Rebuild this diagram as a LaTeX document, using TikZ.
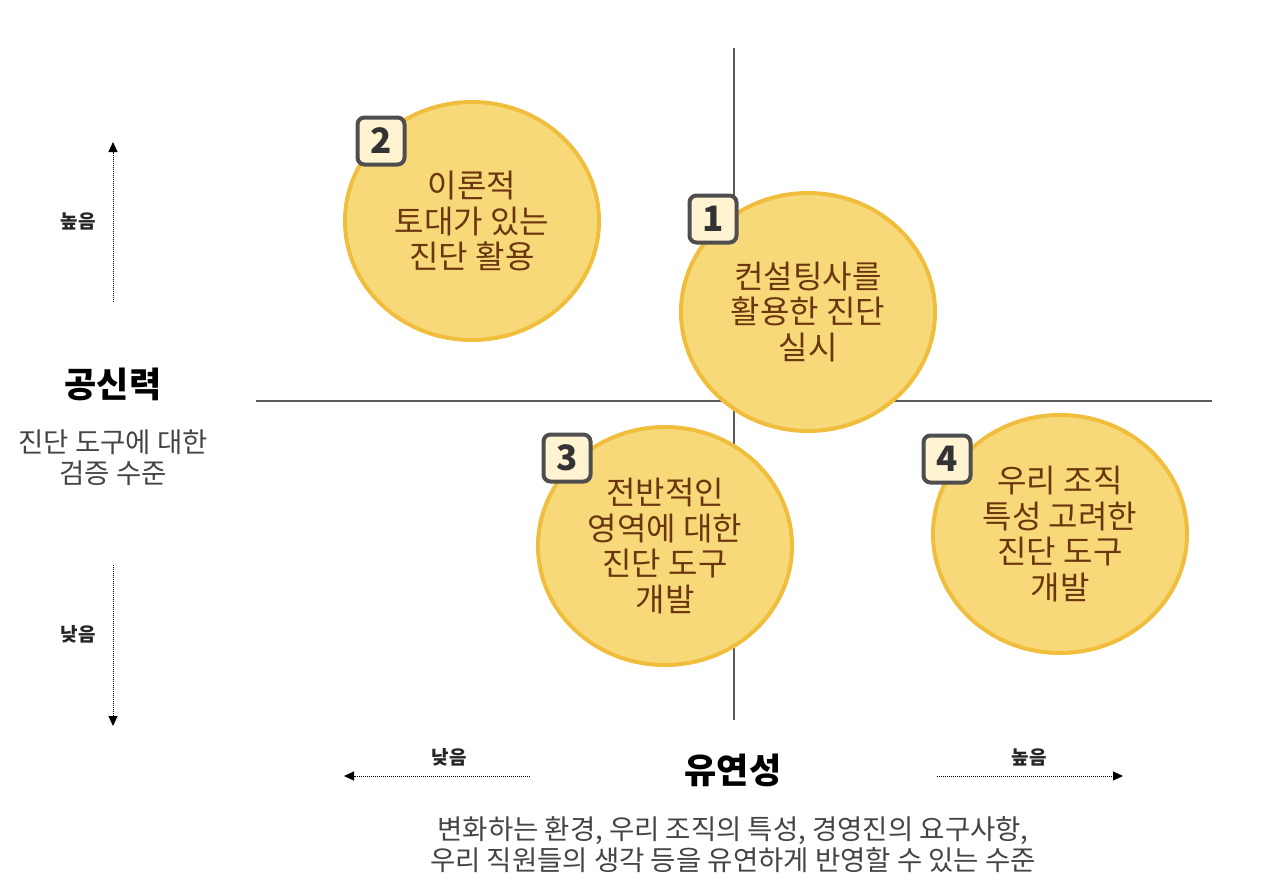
\documentclass[tikz,border=0pt]{standalone}
\usepackage{fontspec}
\setmainfont{Noto Sans CJK KR}
\usetikzlibrary{shapes.geometric,arrows.meta}
\definecolor{circfill}{HTML}{F7D97A}
\definecolor{circline}{HTML}{F0BE3C}
\definecolor{circtext}{HTML}{6B360E}
\definecolor{badgefill}{HTML}{FFF3D2}
\definecolor{badgeline}{HTML}{4E4E4E}
\definecolor{axisgray}{HTML}{5A5A5A}
\definecolor{labelgray}{HTML}{444444}
\tikzset{
  bubble/.style={ellipse, fill=circfill, draw=circline, line width=4pt,
    minimum width=254pt, minimum height=238pt, inner sep=0pt, align=center,
    text=circtext, font=\fontsize{32}{35.5}\selectfont},
  badge/.style={rectangle, rounded corners=7pt, fill=badgefill, draw=badgeline,
    line width=4pt, minimum width=47pt, minimum height=47pt, inner sep=0pt,
    text=black!80, font=\fontsize{35}{38}\selectfont\bfseries},
  axisline/.style={draw=axisgray, line width=1.4pt},
  dotarrow/.style={draw=black, line width=1pt, dash pattern=on 1pt off 1pt,
    -{Triangle[length=10pt,width=9pt]}},
  small/.style={text=black!85, font=\fontsize{19}{21}\selectfont\bfseries},
  title/.style={text=black, font=\fontsize{35}{40}\selectfont\bfseries},
  desc/.style={text=labelgray, align=center, font=\fontsize{27.5}{31}\selectfont}
}
\begin{document}
\begin{tikzpicture}[x=1pt,y=-1pt]
\useasboundingbox (0,0) rectangle (1280,895);
% axes
\coordinate (vtop) at (734,48);
\coordinate (vbot) at (734,720);
\coordinate (hl) at (256,401);
\coordinate (hr) at (1212,401);
\draw[axisline] (vtop) -- (vbot);
\draw[axisline] (hl) -- (hr);
% bubbles
\node[bubble] (c2) at (472,221) {이론적\\토대가 있는\\진단 활용};
\node[bubble] (c1) at (808,312) {컨설팅사를\\활용한 진단\\실시};
\node[bubble] (c3) at (665,546) {전반적인\\영역에 대한\\진단 도구\\개발};
\node[bubble] (c4) at (1060,534) {우리 조직\\특성 고려한\\진단 도구\\개발};
% badges
\node[badge] (b2) at (381,141) {2};
\node[badge] (b1) at (713,219) {1};
\node[badge] (b3) at (567,458) {3};
\node[badge] (b4) at (947,459) {4};
% vertical axis labels
\coordinate (ua) at (113,302);
\coordinate (ub) at (113,142);
\coordinate (da) at (113,565);
\coordinate (db) at (113,726);
\draw[dotarrow] (ua) -- (ub);
\draw[dotarrow] (da) -- (db);
\node[small] (hi1) at (78,221) {높음};
\node[small] (lo1) at (78,634) {낮음};
\node[title] (t1) at (113,384) {공신력};
\node[desc] (d1) at (113,458) {진단 도구에 대한\\검증 수준};
% horizontal axis labels
\coordinate (la) at (530,776);
\coordinate (lb) at (344,776);
\coordinate (ra) at (937,776);
\coordinate (rb) at (1123,776);
\draw[dotarrow] (la) -- (lb);
\draw[dotarrow] (ra) -- (rb);
\node[small] (lo2) at (449,757) {낮음};
\node[small] (hi2) at (1029,757) {높음};
\node[title] (t2) at (733,770) {유연성};
\node[desc] (d2) at (733,845) {변화하는 환경, 우리 조직의 특성, 경영진의 요구사항,\\우리 직원들의 생각 등을 유연하게 반영할 수 있는 수준};
\end{tikzpicture}
\end{document}
